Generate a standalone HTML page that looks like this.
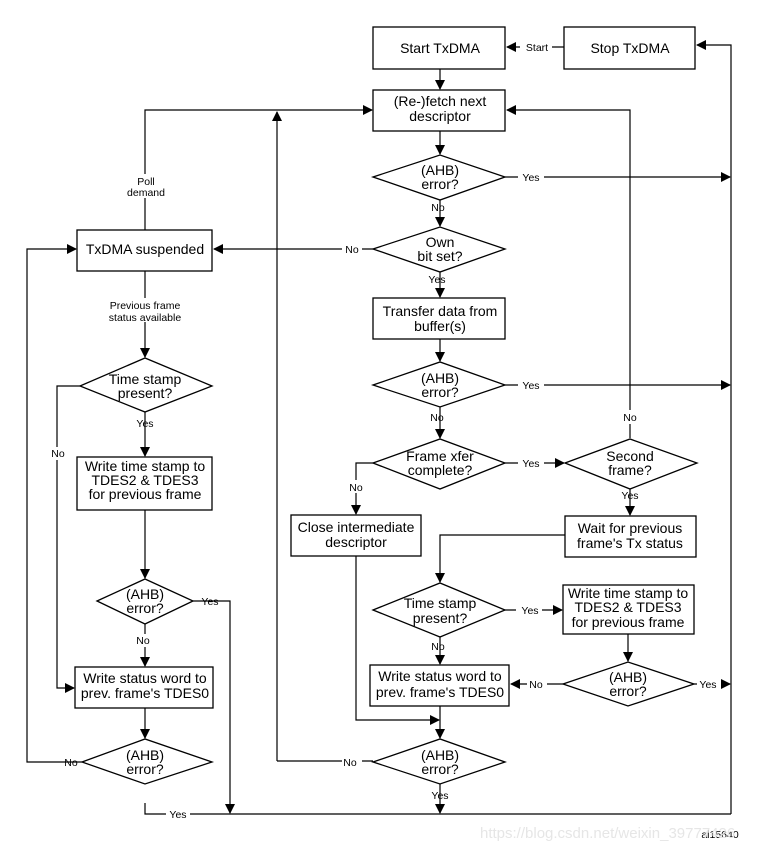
<!DOCTYPE html>
<html><head><meta charset="utf-8"><style>
html,body{margin:0;padding:0;background:#fff}
svg{display:block}
text{font-family:"Liberation Sans",Arial,sans-serif;fill:#000}
.b{font-size:14px}
.s{font-size:10.5px}
</style></head><body>
<svg width="764" height="854" viewBox="0 0 764 854" xmlns="http://www.w3.org/2000/svg">
<defs><marker id="a" markerWidth="10" markerHeight="10" refX="9" refY="5" orient="auto" markerUnits="userSpaceOnUse"><path d="M0,0 L10,5 L0,10 z" fill="#000"/></marker></defs>
<g fill="#fff" stroke="#000" stroke-width="1.3">
<rect x="373" y="27" width="132" height="42"/>
<rect x="564" y="27" width="131" height="42"/>
<rect x="373" y="90" width="132" height="41"/>
<rect x="373" y="298" width="132" height="41"/>
<rect x="565" y="516" width="131" height="41"/>
<rect x="291" y="515" width="130" height="41"/>
<rect x="563" y="585" width="131" height="49"/>
<rect x="370" y="665" width="139" height="41"/>
<rect x="77" y="230" width="135" height="41"/>
<rect x="77" y="457" width="135" height="53"/>
<rect x="75" y="667" width="138" height="41"/>
<polygon points="373,177 440,155 505,177 440,200"/>
<polygon points="373,249 440,227 505,249 440,272"/>
<polygon points="373,385 440,362 505,385 440,407"/>
<polygon points="373,463 440,439 505,463 440,489"/>
<polygon points="565,463 630,439 697,463 630,489"/>
<polygon points="373,610 440,583 505,610 440,637"/>
<polygon points="563,684 628,662 694,684 628,706"/>
<polygon points="373,762 440,739 505,762 440,784"/>
<polygon points="80,386 145,358 212,386 145,412"/>
<polygon points="97,601 145,579 193,601 145,624"/>
<polygon points="82,762 145,739 212,762 145,784"/>
</g>
<g fill="none" stroke="#000" stroke-width="1.2">
<path d="M564,47 H507" marker-end="url(#a)"/>
<path d="M440,69 V89" marker-end="url(#a)"/>
<path d="M440,131 V154" marker-end="url(#a)"/>
<path d="M440,200 V226" marker-end="url(#a)"/>
<path d="M440,272 V297" marker-end="url(#a)"/>
<path d="M440,339 V361" marker-end="url(#a)"/>
<path d="M440,407 V438" marker-end="url(#a)"/>
<path d="M505,177 H730" marker-end="url(#a)"/>
<path d="M505,385 H730" marker-end="url(#a)"/>
<path d="M731,814 V45 H697" marker-end="url(#a)"/>
<path d="M145,230 V110 H372" marker-end="url(#a)"/>
<path d="M277,761 V112" marker-end="url(#a)"/>
<path d="M373,761 H277"/>
<path d="M630,438 V110 H507" marker-end="url(#a)"/>
<path d="M373,249 H214" marker-end="url(#a)"/>
<path d="M505,463 H564" marker-end="url(#a)"/>
<path d="M630,489 V515" marker-end="url(#a)"/>
<path d="M565,535 H440 V582" marker-end="url(#a)"/>
<path d="M373,463 H356 V514" marker-end="url(#a)"/>
<path d="M356,556 V720 H439" marker-end="url(#a)"/>
<path d="M505,610 H562" marker-end="url(#a)"/>
<path d="M628,634 V661" marker-end="url(#a)"/>
<path d="M563,684 H511" marker-end="url(#a)"/>
<path d="M694,684 H730" marker-end="url(#a)"/>
<path d="M440,637 V664" marker-end="url(#a)"/>
<path d="M440,706 V738" marker-end="url(#a)"/>
<path d="M440,784 V813" marker-end="url(#a)"/>
<path d="M145,271 V357" marker-end="url(#a)"/>
<path d="M145,412 V456" marker-end="url(#a)"/>
<path d="M80,386 H57 V688 H74" marker-end="url(#a)"/>
<path d="M145,510 V578" marker-end="url(#a)"/>
<path d="M145,624 V666" marker-end="url(#a)"/>
<path d="M145,708 V738" marker-end="url(#a)"/>
<path d="M193,601 H230 V813" marker-end="url(#a)"/>
<path d="M82,762 H27 V249 H76" marker-end="url(#a)"/>
<path d="M145,803 V814 H731"/>
</g>
<g class="s" text-anchor="middle">
<rect x="520" y="40" width="32" height="13" fill="#fff"/><text x="537" y="51">Start</text>
<rect x="518" y="170" width="26" height="13" fill="#fff"/><text x="531" y="181">Yes</text>
<rect x="518" y="378" width="26" height="13" fill="#fff"/><text x="531" y="389">Yes</text>
<rect x="518" y="456" width="26" height="13" fill="#fff"/><text x="531" y="467">Yes</text>
<rect x="516" y="603" width="26" height="13" fill="#fff"/><text x="530" y="614">Yes</text>
<rect x="697" y="677" width="24" height="13" fill="#fff"/><text x="708" y="688">Yes</text>
<rect x="527" y="677" width="20" height="13" fill="#fff"/><text x="536" y="688">No</text>
<text x="438" y="211">No</text>
<text x="437" y="283">Yes</text>
<text x="437" y="421">No</text>
<rect x="620" y="410" width="20" height="14" fill="#fff"/><text x="630" y="421">No</text>
<text x="630" y="499">Yes</text>
<rect x="346" y="480" width="20" height="13" fill="#fff"/><text x="356" y="491">No</text>
<text x="438" y="650">No</text>
<text x="440" y="799">Yes</text>
<rect x="342" y="755" width="20" height="13" fill="#fff"/><text x="350" y="766">No</text>
<rect x="342" y="242" width="20" height="13" fill="#fff"/><text x="352" y="253">No</text>
<rect x="124" y="174" width="44" height="24" fill="#fff"/><text x="146" y="185">Poll</text><text x="146" y="196">demand</text>
<rect x="100" y="298" width="90" height="24" fill="#fff"/><text x="145" y="309">Previous frame</text><text x="145" y="321">status available</text>
<text x="145" y="427">Yes</text>
<rect x="47" y="447" width="20" height="13" fill="#fff"/><text x="58" y="457">No</text>
<text x="210" y="605">Yes</text>
<rect x="135" y="634" width="20" height="13" fill="#fff"/><text x="143" y="644">No</text>
<text x="71" y="766">No</text>
<rect x="166" y="807" width="24" height="13" fill="#fff"/><text x="178" y="818">Yes</text>
<text x="720" y="838">ai15640</text>
</g>
<text x="480" y="838" font-size="15" fill="#e6e6e6" style="fill:#e6e6e6">https://blog.csdn.net/weixin_39777426</text>
<g class="b" text-anchor="middle">
<text x="440" y="53">Start TxDMA</text>
<text x="630" y="53">Stop TxDMA</text>
<text x="440" y="106">(Re-)fetch next</text><text x="440" y="121">descriptor</text>
<text x="440" y="175">(AHB)</text><text x="440" y="189">error?</text>
<text x="440" y="247">Own</text><text x="440" y="261">bit set?</text>
<text x="440" y="316">Transfer data from</text><text x="440" y="331">buffer(s)</text>
<text x="440" y="383">(AHB)</text><text x="440" y="397">error?</text>
<text x="440" y="461">Frame xfer</text><text x="440" y="475">complete?</text>
<text x="630" y="461">Second</text><text x="630" y="475">frame?</text>
<text x="630" y="533">Wait for previous</text><text x="630" y="548">frame's Tx status</text>
<text x="356" y="532">Close intermediate</text><text x="356" y="547">descriptor</text>
<text x="440" y="608">Time stamp</text><text x="440" y="623">present?</text>
<text x="628" y="598">Write time stamp to</text><text x="628" y="612">TDES2 &amp; TDES3</text><text x="628" y="627">for previous frame</text>
<text x="628" y="682">(AHB)</text><text x="628" y="696">error?</text>
<text x="440" y="681">Write status word to</text><text x="440" y="697">prev. frame's TDES0</text>
<text x="440" y="760">(AHB)</text><text x="440" y="774">error?</text>
<text x="145" y="254">TxDMA suspended</text>
<text x="145" y="384">Time stamp</text><text x="145" y="398">present?</text>
<text x="145" y="471">Write time stamp to</text><text x="145" y="485">TDES2 &amp; TDES3</text><text x="145" y="499">for previous frame</text>
<text x="145" y="599">(AHB)</text><text x="145" y="613">error?</text>
<text x="145" y="683">Write status word to</text><text x="145" y="698">prev. frame's TDES0</text>
<text x="145" y="760">(AHB)</text><text x="145" y="774">error?</text>
</g>
</svg>
</body></html>
